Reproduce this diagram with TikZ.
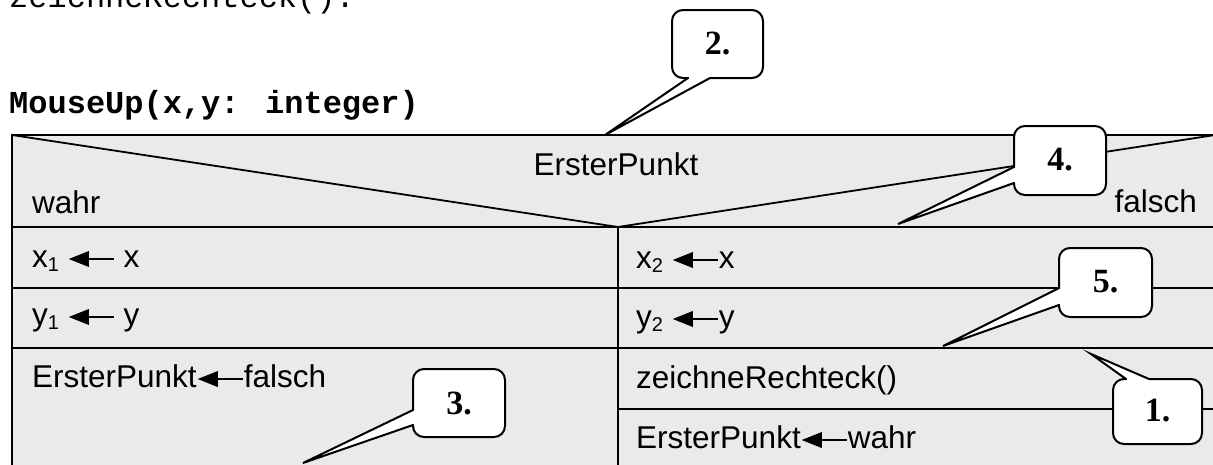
\documentclass[tikz,border=0pt]{standalone}
\usepackage{fontspec}
\setmainfont{Liberation Sans}
\newfontfamily\monofont{Liberation Mono}
\newfontfamily\labelfont{Liberation Serif}
\definecolor{cellgray}{RGB}{234,234,234}

% assignment arrow: filled triangular head with a short shaft
\newcommand\assignarrow{\kern1pt\tikz[x=1pt,y=1pt,baseline=0pt]{%
  \fill (0,8) -- (20,16) -- (20,0) -- cycle;
  \fill (19,6.8) rectangle (45,9.2);}\kern1pt}
% lowered index digit
\newcommand\idx[1]{\raisebox{-4pt}{\fontsize{20}{20}\selectfont #1}}

\tikzset{
  txt/.style={inner sep=0pt, font=\fontsize{31.5}{36}\selectfont},
  grid/.style={line width=1.8pt},
  bubblefill/.style={fill=white},
  bubbleline/.style={line width=2pt, line cap=round},
  num/.style={inner sep=0pt, font=\labelfont\bfseries\fontsize{34}{38}\selectfont},
}

\begin{document}
\begin{tikzpicture}[x=1pt,y=-1pt]
\useasboundingbox (0,0) rectangle (1213,464);
\clip (0,0) rectangle (1213,464);

% code lines
\node[txt, font=\monofont\fontsize{32}{36}\selectfont, anchor=base west] (code) at (9,7) {zeichneRechteck().};
\node[txt, font=\monofont\bfseries\fontsize{32}{36}\selectfont, anchor=base west] (title) at (9,113) {MouseUp(x,y: integer)};

% structogram body
\fill[cellgray] (12,135) rectangle (1220,470);
\draw[grid] (1220,135) -- (12,135) -- (12,470);
\draw[grid] (12,135) -- (618,227) -- (1215,135);
\draw[grid] (12,227) -- (1220,227);
\draw[grid] (618,227) -- (618,470);
\draw[grid] (12,288) -- (1220,288);
\draw[grid] (12,348) -- (1220,348);
\draw[grid] (618,409) -- (1220,409);

% condition head
\node[txt, anchor=base] (cond) at (616,175) {ErsterPunkt};
\node[txt, anchor=base west] (yes) at (32,213) {wahr};
\node[txt, anchor=base east] (no) at (1197,212) {falsch};

% true branch
\node[txt, anchor=base west] (a1) at (32,267) {x\idx{1} \assignarrow{} x};
\node[txt, anchor=base west] (a2) at (32,325) {y\idx{1} \assignarrow{} y};
\node[txt, anchor=base west] (a3) at (32,387) {ErsterPunkt\assignarrow falsch};

% false branch
\node[txt, anchor=base west] (b1) at (636,268) {x\idx{2} \assignarrow x};
\node[txt, anchor=base west] (b2) at (636,327) {y\idx{2} \assignarrow y};
\node[txt, anchor=base west] (b3) at (636,388) {zeichneRechteck()};
\node[txt, anchor=base west] (b4) at (636,448) {ErsterPunkt\assignarrow wahr};

% callout 2
\fill[bubblefill, rounded corners=11] (672,10) rectangle (763,78);
\fill[bubblefill] (688,78) -- (605,135) -- (710,78) -- cycle;
\draw[bubbleline, rounded corners=11] (710,78) -- (763,78) -- (763,10) -- (672,10) -- (672,78) -- (688,78);
\draw[bubbleline] (688,78) -- (605,135) -- (710,78);
\node[num] (n2) at (717.5,43) {2.};

% callout 4
\fill[bubblefill, rounded corners=11] (1014,126) rectangle (1106,195);
\fill[bubblefill] (1014,167) -- (898,224) -- (1014,183) -- cycle;
\draw[bubbleline, rounded corners=11] (1014,183) -- (1014,195) -- (1106,195) -- (1106,126) -- (1014,126) -- (1014,167);
\draw[bubbleline] (1014,167) -- (898,224) -- (1014,183);
\node[num] (n4) at (1060,160) {4.};

% callout 5
\fill[bubblefill, rounded corners=11] (1059,248) rectangle (1152,317);
\fill[bubblefill] (1059,288) -- (943,346) -- (1059,305) -- cycle;
\draw[bubbleline, rounded corners=11] (1059,305) -- (1059,317) -- (1152,317) -- (1152,248) -- (1059,248) -- (1059,288);
\draw[bubbleline] (1059,288) -- (943,346) -- (1059,305);
\node[num] (n5) at (1105.5,282) {5.};

% callout 1
\fill[bubblefill, rounded corners=11] (1113,379) rectangle (1202,444);
\fill[bubblefill] (1126,379) -- (1091,354) -- (1149,379) -- cycle;
\draw[bubbleline, rounded corners=11] (1149,379) -- (1202,379) -- (1202,444) -- (1113,444) -- (1113,379) -- (1126,379);
\draw[bubbleline] (1126,379) -- (1091,354) -- (1149,379);
\node[num] (n1) at (1157.5,411) {1.};

% callout 3
\fill[bubblefill, rounded corners=11] (413,369) rectangle (505,437);
\fill[bubblefill] (413,410) -- (303,463) -- (413,425) -- cycle;
\draw[bubbleline, rounded corners=11] (413,425) -- (413,437) -- (505,437) -- (505,369) -- (413,369) -- (413,410);
\draw[bubbleline] (413,410) -- (303,463) -- (413,425);
\node[num] (n3) at (459,403) {3.};
\end{tikzpicture}
\end{document}
